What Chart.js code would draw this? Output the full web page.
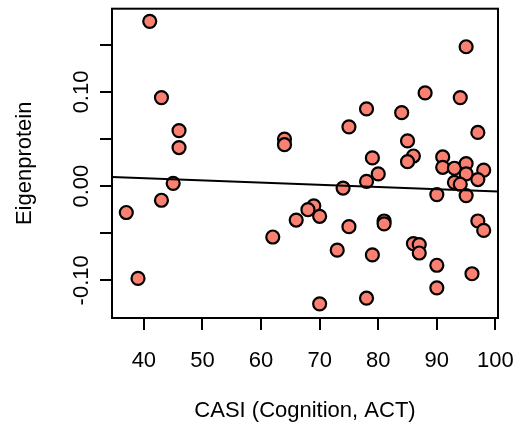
<!DOCTYPE html>
<html><head><meta charset="utf-8">
<script src="https://cdn.jsdelivr.net/npm/chart.js@4/dist/chart.umd.min.js"></script>
<style>html,body{margin:0;padding:0;background:#fff}#wrap{width:516px;height:433px}</style>
</head><body><div id="wrap"><canvas id="c" width="516" height="433"></canvas></div>
<script>
// CASI score (x) and eigenprotein value (y) for each subject
const casi = [41,43,46,46,45,43,37,39,64,64,75,78,79,80,78,74,69,68,70,66,75,62,73,79,81,81,70,78,
  95,88,94,84,97,85,86,85,91,91,93,95,95,98,97,93,94,90,95,97,98,86,87,87,90,96,90];
const eigen = [0.175,0.094,0.059,0.041,0.003,-0.015,-0.028,-0.098,0.050,0.044,0.063,0.082,0.030,0.013,0.005,-0.002,
  -0.021,-0.025,-0.032,-0.036,-0.043,-0.054,-0.068,-0.073,-0.037,-0.040,-0.125,-0.119,
  0.148,0.099,0.094,0.078,0.057,0.048,0.032,0.026,0.031,0.020,0.019,0.024,0.013,0.017,0.007,0.004,0.002,
  -0.009,-0.010,-0.037,-0.047,-0.061,-0.062,-0.071,-0.084,-0.093,-0.108];
const xTickValues = [40,50,60,70,80,90,100];
const yTickValues = [-0.10,-0.05,0.00,0.05,0.10,0.15];
const yTickLabels = ['-0.10','','0.00','','0.10',''];
const xTitle = 'CASI (Cognition, ACT)';
const yTitle = 'Eigenprotein';
const xRange = [34.56, 100.44];
const yRange = [-0.14, 0.1884];

// least-squares fit (as abline(lm(y ~ x)))
const n = casi.length;
const mx = casi.reduce((a,b)=>a+b,0)/n, my = eigen.reduce((a,b)=>a+b,0)/n;
let sxy = 0, sxx = 0;
for (let i=0;i<n;i++){ sxy += (casi[i]-mx)*(eigen[i]-my); sxx += (casi[i]-mx)**2; }
const slope = sxy/sxx, intercept = my - slope*mx;

const points = casi.map((x,i)=>({x, y: eigen[i]}));
const fitLine = xRange.map(x=>({x, y: intercept + slope*x}));

const FONT = 'Liberation Sans, Arial, Helvetica, sans-serif';

const boxPlugin = {
  id: 'box',
  afterDraw(chart) {
    const {ctx, chartArea: a} = chart;
    ctx.save();
    ctx.strokeStyle = '#000'; ctx.lineWidth = 2;
    ctx.strokeRect(a.left, a.top, a.right - a.left, a.bottom - a.top);
    // rotated y tick labels (R style, las=0)
    const ys = chart.scales.y;
    ctx.fillStyle = '#000';
    ctx.font = '22px ' + FONT;
    ctx.textAlign = 'center';
    ctx.textBaseline = 'alphabetic';
    yTickValues.forEach((v,i)=>{
      const lab = yTickLabels[i];
      if (!lab) return;
      const py = ys.getPixelForValue(v);
      ctx.save();
      ctx.translate(88, py);
      ctx.rotate(-Math.PI/2);
      ctx.fillText(lab, 0, 0);
      ctx.restore();
    });
    ctx.restore();
  }
};

new Chart(document.getElementById('c'), {
  type: 'scatter',
  data: {
    datasets: [
      { type: 'line', data: fitLine, borderColor: '#000', borderWidth: 2, pointRadius: 0, fill: false, order: 0 },
      { data: points, backgroundColor: '#FA8072', borderColor: '#000', borderWidth: 2.2, pointRadius: 6.5, order: 1 }
    ]
  },
  options: {
    responsive: false, animation: false, devicePixelRatio: 1,
    layout: { padding: { top: 6, right: 18, left: 0, bottom: 0 } },
    plugins: { legend: { display: false }, tooltip: { enabled: false } },
    scales: {
      x: {
        type: 'linear', min: xRange[0], max: xRange[1],
        afterBuildTicks: s => { s.ticks = xTickValues.map(v=>({value:v})); },
        afterFit: s => { s.height = 115; s.paddingLeft = 0; s.paddingRight = 0; },
        grid: { drawOnChartArea: false, drawTicks: true, tickLength: 12, color: '#000', lineWidth: 2 },
        border: { display: true, color: '#000', width: 2 },
        ticks: { autoSkip: false, maxRotation: 0, minRotation: 0, color: '#000', padding: 18,
                 font: { family: FONT, size: 22 }, callback: v => String(v) },
        title: { display: true, text: xTitle, color: '#000', font: { family: FONT, size: 22 }, padding: { top: 0, bottom: 9 } }
      },
      y: {
        type: 'linear', min: yRange[0], max: yRange[1],
        afterBuildTicks: s => { s.ticks = yTickValues.map(v=>({value:v})); },
        afterFit: s => { s.width = 112; s.paddingTop = 0; s.paddingBottom = 0; },
        grid: { drawOnChartArea: false, drawTicks: true, tickLength: 12, color: '#000', lineWidth: 2 },
        border: { display: true, color: '#000', width: 2 },
        ticks: { color: '#000', font: { family: FONT, size: 22 }, callback: () => '' },
        title: { display: true, text: yTitle, color: '#000', font: { family: FONT, size: 22 }, padding: { top: 12, bottom: 0 } }
      }
    }
  },
  plugins: [boxPlugin]
});
</script>
</body></html>
